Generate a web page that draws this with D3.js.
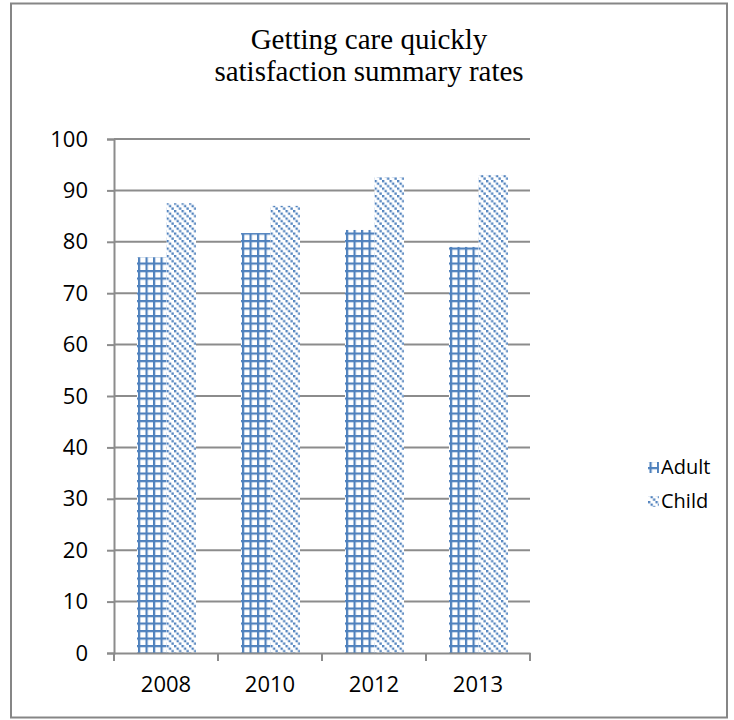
<!DOCTYPE html>
<html>
<head>
<meta charset="utf-8">
<script src="https://cdn.jsdelivr.net/npm/d3@7"></script>
<style>
  html, body { margin: 0; padding: 0; background: #fff; }
  svg { display: block; }
</style>
</head>
<body>
<svg id="chart" width="734" height="720"></svg>
<script>
// Survey years and satisfaction rates (%)
const years = ["2008", "2010", "2012", "2013"];
const seriesNames = ["Adult", "Child"];
const adultRates = [77.0, 81.7, 82.3, 79.0];
const childRates = [87.5, 87.0, 92.6, 93.0];
const yTicks = [0, 10, 20, 30, 40, 50, 60, 70, 80, 90, 100];
const titleLines = ["Getting care quickly", "satisfaction summary rates"];

const rows = years.map((y, i) => ({ year: y, Adult: adultRates[i], Child: childRates[i] }));

const svg = d3.select("#chart");
const blue = "#4f81bd";
const gridGray = "#8c8c8c";
const labelFont = "'Open Sans', 'Noto Sans', sans-serif";

// Outer frame
svg.append("rect")
  .attr("x", 11).attr("y", 3.5).attr("width", 716).attr("height", 714)
  .attr("fill", "#fff").attr("stroke", "#868686").attr("stroke-width", 2);

// Fill patterns
const defs = svg.append("defs");
const grid = defs.append("pattern")
  .attr("id", "pat-grid").attr("patternUnits", "userSpaceOnUse")
  .attr("width", 7.5).attr("height", 7.5).attr("x", 144).attr("y", 0);
grid.append("rect").attr("width", 7.5).attr("height", 7.5).attr("fill", "#fff");
grid.append("rect").attr("x", 0).attr("y", 0).attr("width", 2.2).attr("height", 7.5).attr("fill", blue);
grid.append("rect").attr("x", 0).attr("y", 0).attr("width", 7.5).attr("height", 2.2).attr("fill", blue);

const diag = defs.append("pattern")
  .attr("id", "pat-diag").attr("patternUnits", "userSpaceOnUse")
  .attr("width", 7.5).attr("height", 7.5);
diag.append("rect").attr("width", 7.5).attr("height", 7.5).attr("fill", "#fff");
[0, 2.5, 5].forEach(o => {
  diag.append("rect").attr("x", o).attr("y", o).attr("width", 2.3).attr("height", 2.3).attr("fill", blue);
});

const fills = { Adult: "url(#pat-grid)", Child: "url(#pat-diag)" };

// Scales
const x0 = d3.scaleBand().domain(years).range([114, 530]).paddingInner(0).paddingOuter(0);
const x1 = d3.scaleBand().domain(seriesNames).range([23, x0.bandwidth() - 22]);
const y = d3.scaleLinear().domain([0, 100]).range([653, 139]);

// Title
svg.append("text")
  .attr("x", 369).attr("y", 49)
  .attr("text-anchor", "middle")
  .attr("font-family", "'Liberation Serif', 'Times New Roman', serif")
  .attr("font-size", 29).attr("fill", "#000")
  .selectAll("tspan").data(titleLines).join("tspan")
  .attr("x", 369).attr("dy", (d, i) => i === 0 ? 0 : 32)
  .text(d => d);

// Horizontal gridlines
svg.append("g")
  .selectAll("line").data(yTicks.filter(t => t > 0)).join("line")
  .attr("x1", 114).attr("x2", 530)
  .attr("y1", d => y(d)).attr("y2", d => y(d))
  .attr("stroke", gridGray).attr("stroke-width", 2);

// Bars
const groups = svg.append("g").selectAll("g").data(rows).join("g")
  .attr("transform", d => `translate(${x0(d.year)},0)`);
groups.selectAll("rect")
  .data(d => seriesNames.map(s => ({ key: s, value: d[s] })))
  .join("rect")
  .attr("x", d => x1(d.key))
  .attr("y", d => y(d.value))
  .attr("width", x1.bandwidth())
  .attr("height", d => y(0) - y(d.value))
  .attr("fill", d => fills[d.key]);

// Y axis
const yAxis = svg.append("g")
  .attr("transform", "translate(114,0)")
  .call(d3.axisLeft(y).tickValues(yTicks).tickSize(7).tickPadding(19));
yAxis.select(".domain").attr("stroke", gridGray).attr("stroke-width", 2);
yAxis.selectAll(".tick line").attr("stroke", gridGray).attr("stroke-width", 2);
yAxis.selectAll(".tick text")
  .attr("font-family", labelFont).attr("font-size", 22).attr("fill", "#000");

// X axis
const xAxis = svg.append("g")
  .attr("transform", "translate(0,653)")
  .call(d3.axisBottom(x0).tickSize(0).tickPadding(23));
xAxis.select(".domain").attr("stroke", gridGray).attr("stroke-width", 2);
xAxis.selectAll(".tick text")
  .attr("font-family", labelFont).attr("font-size", 22).attr("fill", "#000");
// Category boundary tick marks
svg.append("g").selectAll("line")
  .data(years.map(yr => x0(yr)).concat([x0.range()[1]]))
  .join("line")
  .attr("x1", d => d).attr("x2", d => d)
  .attr("y1", 653).attr("y2", 661)
  .attr("stroke", gridGray).attr("stroke-width", 2);

// Legend
const legend = svg.append("g").selectAll("g").data(seriesNames).join("g")
  .attr("transform", (d, i) => `translate(648,${467 + i * 34})`);
legend.append("rect")
  .attr("x", 0).attr("y", -5).attr("width", 11).attr("height", 11)
  .attr("fill", d => fills[d]);
legend.append("text")
  .attr("x", 13).attr("y", 0).attr("dy", "0.35em")
  .attr("font-family", labelFont).attr("font-size", 20).attr("fill", "#000")
  .text(d => d);
</script>
</body>
</html>
